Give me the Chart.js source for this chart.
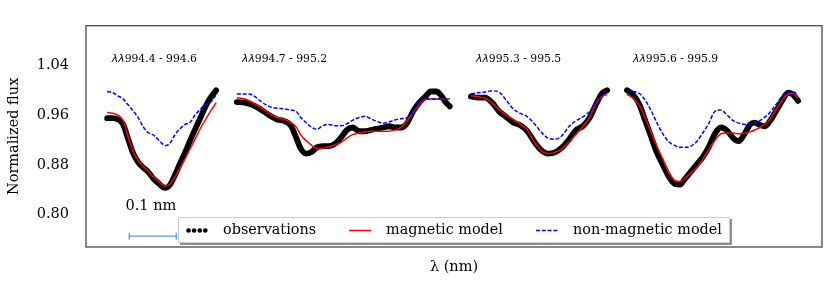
<!DOCTYPE html>
<html>
<head>
<meta charset="utf-8">
<script src="https://cdn.jsdelivr.net/npm/chart.js@4"></script>
<style>
  html, body { margin: 0; padding: 0; background: #fff; }
  #chart { display: block; }
</style>
</head>
<body>
<canvas id="chart" width="830" height="286"></canvas>
<script>
// x: wavelength offset along the concatenated spectrum (nm), y: normalized flux

// ------------------ DATA ------------------
const x1 = [0.045, 0.057, 0.068, 0.079, 0.089, 0.100, 0.111, 0.121, 0.132, 0.143, 0.153, 0.164,
  0.170, 0.179, 0.189, 0.200, 0.211, 0.221, 0.232, 0.243, 0.253, 0.264, 0.277];
const obs1 = [0.955, 0.955, 0.953, 0.945, 0.923, 0.899, 0.884, 0.876, 0.869, 0.858, 0.851, 0.844,
  0.843, 0.848, 0.863, 0.882, 0.900, 0.918, 0.937, 0.955, 0.972, 0.987, 1.000];
const mag1 = [0.964, 0.963, 0.960, 0.951, 0.927, 0.902, 0.887, 0.878, 0.870, 0.861, 0.854, 0.847,
  0.846, 0.849, 0.860, 0.875, 0.890, 0.905, 0.921, 0.938, 0.951, 0.965, 0.980];
const nonmag1 = [0.998, 0.996, 0.991, 0.986, 0.977, 0.967, 0.956, 0.942, 0.932, 0.928, 0.921, 0.913,
  0.911, 0.915, 0.928, 0.938, 0.945, 0.948, 0.960, 0.969, 0.977, 0.980, 0.993];

const x2 = [0.321, 0.338, 0.355, 0.372, 0.389, 0.406, 0.423, 0.436, 0.447, 0.457, 0.468, 0.479,
  0.491, 0.504, 0.517, 0.530, 0.543, 0.555, 0.568, 0.581, 0.594, 0.606, 0.619, 0.632, 0.645,
  0.657, 0.670, 0.683, 0.696, 0.709, 0.721, 0.734, 0.745, 0.755, 0.766, 0.774];
const obs2 = [0.981, 0.980, 0.976, 0.969, 0.960, 0.953, 0.950, 0.943, 0.924, 0.906, 0.898, 0.900,
  0.908, 0.910, 0.910, 0.914, 0.924, 0.936, 0.940, 0.934, 0.934, 0.936, 0.938, 0.940, 0.942,
  0.940, 0.940, 0.947, 0.966, 0.980, 0.989, 0.998, 0.998, 0.992, 0.980, 0.974];
const mag2 = [0.988, 0.986, 0.980, 0.972, 0.963, 0.956, 0.953, 0.948, 0.941, 0.928, 0.919, 0.912,
  0.906, 0.907, 0.909, 0.912, 0.916, 0.923, 0.929, 0.931, 0.933, 0.934, 0.934, 0.934, 0.934,
  0.936, 0.940, 0.951, 0.964, 0.976, 0.985, 0.986, 0.986, 0.986, 0.986, 0.986];
const nonmag2 = [0.994, 0.994, 0.992, 0.982, 0.974, 0.971, 0.970, 0.968, 0.966, 0.956, 0.948, 0.941,
  0.937, 0.943, 0.945, 0.943, 0.943, 0.946, 0.952, 0.956, 0.958, 0.954, 0.950, 0.947, 0.949,
  0.952, 0.954, 0.956, 0.966, 0.981, 0.986, 0.986, 0.986, 0.986, 0.986, 0.986];

const x3 = [0.819, 0.834, 0.849, 0.864, 0.879, 0.894, 0.909, 0.923, 0.938, 0.953, 0.968, 0.983,
  0.998, 1.013, 1.028, 1.043, 1.057, 1.072, 1.085, 1.098, 1.109];
const obs3 = [0.990, 0.988, 0.988, 0.980, 0.966, 0.957, 0.948, 0.944, 0.935, 0.918, 0.904, 0.898,
  0.900, 0.908, 0.921, 0.936, 0.942, 0.956, 0.977, 0.995, 1.000];
const mag3 = [0.991, 0.990, 0.987, 0.980, 0.969, 0.960, 0.953, 0.946, 0.937, 0.918, 0.903, 0.898,
  0.900, 0.906, 0.917, 0.929, 0.942, 0.957, 0.979, 0.990, 0.993];
const nonmag3 = [0.994, 0.996, 0.997, 0.999, 0.997, 0.984, 0.970, 0.963, 0.958, 0.947, 0.933, 0.923,
  0.921, 0.927, 0.942, 0.951, 0.957, 0.966, 0.981, 0.992, 0.998];

const x4 = [1.151, 1.164, 1.177, 1.189, 1.202, 1.215, 1.228, 1.240, 1.253, 1.264, 1.274, 1.287,
  1.300, 1.313, 1.326, 1.338, 1.351, 1.364, 1.377, 1.389, 1.402, 1.413, 1.423, 1.434, 1.445,
  1.455, 1.468, 1.481, 1.494, 1.504, 1.515];
const obs4 = [1.000, 0.993, 0.978, 0.953, 0.926, 0.899, 0.879, 0.861, 0.849, 0.848, 0.857, 0.869,
  0.881, 0.893, 0.910, 0.930, 0.940, 0.935, 0.923, 0.918, 0.931, 0.945, 0.948, 0.944, 0.942,
  0.950, 0.966, 0.983, 0.996, 0.993, 0.983];
const mag4 = [0.993, 0.987, 0.976, 0.957, 0.933, 0.909, 0.888, 0.867, 0.855, 0.853, 0.858, 0.867,
  0.876, 0.890, 0.905, 0.919, 0.930, 0.931, 0.931, 0.930, 0.931, 0.933, 0.936, 0.940, 0.946,
  0.953, 0.969, 0.984, 0.994, 0.995, 0.988];
const nonmag4 = [0.999, 0.998, 0.995, 0.985, 0.968, 0.947, 0.929, 0.917, 0.911, 0.908, 0.908, 0.910,
  0.918, 0.932, 0.948, 0.966, 0.968, 0.960, 0.951, 0.947, 0.945, 0.946, 0.947, 0.951, 0.957,
  0.964, 0.977, 0.990, 0.997, 0.997, 0.994];

const segLabels = ["994.4 - 994.6", "994.7 - 995.2", "995.3 - 995.5", "995.6 - 995.9"];
const segLabelX = [0.055, 0.332, 0.830, 1.164];
const segLabelY = 1.050;

const yTicks = [0.80, 0.88, 0.96, 1.04];
const xRange = [0, 1.566];
const yRange = [0.7476, 1.1039];

// 0.1 nm scale bar
const scaleBarX = [0.092, 0.192];
const scaleBarY = 0.765;
const scaleBarNote = { text: "0.1 nm", x: 0.138, y: 0.8135 };

const seriesNames = ["observations", "magnetic model", "non-magnetic model"];

// ------------------ BUILD ------------------
const segments = [
  { x: x1, s: [obs1, mag1, nonmag1] },
  { x: x2, s: [obs2, mag2, nonmag2] },
  { x: x3, s: [obs3, mag3, nonmag3] },
  { x: x4, s: [obs4, mag4, nonmag4] }
];

function series(k) {
  const pts = [];
  segments.forEach((seg, i) => {
    if (i > 0) pts.push({ x: seg.x[0] - 0.01, y: null });
    seg.x.forEach((x, j) => pts.push({ x: x, y: seg.s[k][j] }));
  });
  return pts;
}

const SERIF = '"DejaVu Serif", serif';

const decor = {
  id: "decor",
  afterDatasetsDraw(chart) {
    const { ctx, chartArea: a, scales: { x, y } } = chart;
    ctx.save();

    // segment labels
    ctx.textBaseline = "middle";
    ctx.fillStyle = "#000";
    segLabels.forEach((t, i) => {
      let px = x.getPixelForValue(segLabelX[i]);
      const py = y.getPixelForValue(segLabelY);
      ctx.font = 'italic 10.8px "DejaVu Sans"';
      ctx.textAlign = "left";
      ctx.fillText("λλ", px, py);
      px += ctx.measureText("λλ").width;
      ctx.font = "10.8px " + SERIF;
      ctx.fillText(t, px, py);
    });

    // scale bar note
    ctx.font = "14.5px " + SERIF;
    ctx.textAlign = "center";
    ctx.fillText(scaleBarNote.text, x.getPixelForValue(scaleBarNote.x), y.getPixelForValue(scaleBarNote.y));

    // legend
    const ds = chart.data.datasets.filter(d => seriesNames.includes(d.label));
    ctx.font = "14.4px " + SERIF;
    const handle = 22, gap = 15, colGap = 33, pad = 8;
    let w = pad * 2;
    ds.forEach((d, i) => {
      w += handle + gap + ctx.measureText(d.label).width;
      if (i > 0) w += colGap;
    });
    const bh = 26;
    const bx = a.left + 92, by = a.bottom - 30;
    ctx.fillStyle = "#8a8a8a";
    ctx.fillRect(bx + 2, by + 2, w, bh);
    ctx.fillStyle = "#fff";
    ctx.fillRect(bx, by, w, bh);
    ctx.strokeStyle = "#cccccc";
    ctx.lineWidth = 1;
    ctx.strokeRect(bx + 0.5, by + 0.5, w - 1, bh - 1);

    let cx = bx + pad;
    const cy = by + bh / 2 + 0.5;
    ds.forEach((d, i) => {
      if (i > 0) cx += colGap;
      if (d.label === "observations") {
        ctx.fillStyle = "#000";
        for (let k = 0; k < 4; k++) {
          ctx.beginPath();
          ctx.arc(cx + 2.5 + k * 5.6, cy, 2.3, 0, Math.PI * 2);
          ctx.fill();
        }
      } else {
        ctx.strokeStyle = d.borderColor;
        ctx.lineWidth = d.borderWidth;
        ctx.setLineDash(d.borderDash || []);
        ctx.beginPath();
        ctx.moveTo(cx, cy);
        ctx.lineTo(cx + handle, cy);
        ctx.stroke();
        ctx.setLineDash([]);
      }
      cx += handle + gap;
      ctx.fillStyle = "#000";
      ctx.textAlign = "left";
      ctx.fillText(d.label, cx, cy);
      cx += ctx.measureText(d.label).width;
    });

    // frame
    ctx.strokeStyle = "#555";
    ctx.lineWidth = 1.4;
    ctx.strokeRect(a.left, a.top, a.right - a.left, a.bottom - a.top);
    ctx.restore();
  }
};

new Chart(document.getElementById("chart"), {
  type: "line",
  data: {
    datasets: [
      {
        label: seriesNames[0], data: series(0), order: 3,
        borderColor: "#000", borderWidth: 5.8, borderCapStyle: "round", borderJoinStyle: "round",
        pointRadius: 0, cubicInterpolationMode: "monotone", spanGaps: false
      },
      {
        label: seriesNames[1], data: series(1), order: 2,
        borderColor: "#ff0000", borderWidth: 1.5,
        pointRadius: 0, cubicInterpolationMode: "monotone", spanGaps: false
      },
      {
        label: seriesNames[2], data: series(2), order: 1,
        borderColor: "#0000ff", borderWidth: 1.5, borderDash: [4, 1.8],
        pointRadius: 0, cubicInterpolationMode: "monotone", spanGaps: false
      },
      {
        label: "scale", order: 0,
        data: scaleBarX.map(v => ({ x: v, y: scaleBarY })),
        borderColor: "#5b9bd5", borderWidth: 1.3,
        pointStyle: "line", pointRotation: 90, pointRadius: 3.5,
        pointBorderColor: "#5b9bd5", pointBorderWidth: 1.3
      }
    ]
  },
  options: {
    responsive: false,
    animation: false,
    devicePixelRatio: 1,
    layout: { padding: { left: 0, top: 9, right: 8, bottom: 0 } },
    plugins: { legend: { display: false }, tooltip: { enabled: false } },
    scales: {
      x: {
        type: "linear", min: xRange[0], max: xRange[1],
        grid: { display: false, drawTicks: false },
        border: { display: false },
        ticks: { display: false },
        title: { display: true, text: "λ (nm)", color: "#000",
          font: { family: SERIF, size: 14.5 }, padding: { top: 0, bottom: 9.6 } },
        afterFit(s) { s.height = 39; }
      },
      y: {
        min: yRange[0], max: yRange[1],
        grid: { display: false, drawTicks: false },
        border: { display: false },
        afterBuildTicks(s) { s.ticks = yTicks.map(v => ({ value: v })); },
        ticks: { color: "#000", padding: 17, font: { family: SERIF, size: 14.5 },
          callback: v => v.toFixed(2) },
        title: { display: true, text: "Normalized flux", color: "#000",
          font: { family: SERIF, size: 14.5 }, padding: { top: 5.3, bottom: 0 } },
        afterFit(s) { s.width = 86; }
      }
    }
  },
  plugins: [decor]
});
</script>
</body>
</html>
